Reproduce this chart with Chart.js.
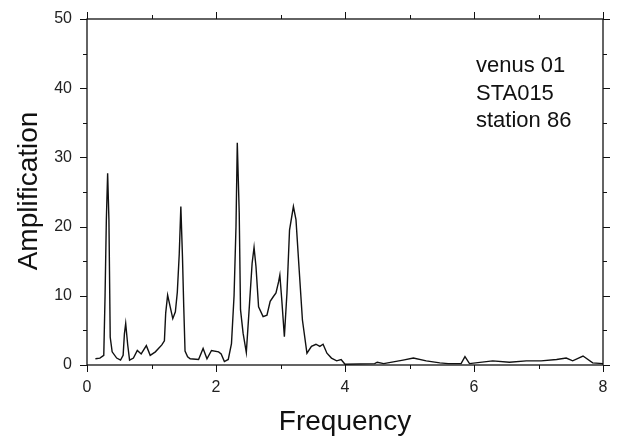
<!DOCTYPE html>
<html lang="en">
<head>
    <meta charset="UTF-8">
    <title>Amplification vs Frequency</title>
    <script src="https://cdn.jsdelivr.net/npm/chart.js"></script>
    <style>
        body {
            margin: 0;
            background: #fff;
        }
        canvas {
            display: block;
        }
    </style>
</head>
<body>
    <canvas id="specChart" width="622" height="444"></canvas>

    <script>
        // values
        const frequency = [
            0.13, 0.20, 0.26, 0.28, 0.30, 0.32, 0.34, 0.36, 0.39, 0.46,
            0.52, 0.56, 0.58, 0.60, 0.63, 0.66, 0.72, 0.78, 0.84, 0.92,
            0.98, 1.06, 1.16, 1.20, 1.22, 1.25, 1.29, 1.33, 1.37, 1.40,
            1.43, 1.455, 1.48, 1.50, 1.52, 1.56, 1.60, 1.73, 1.80, 1.86,
            1.93, 2.04, 2.08, 2.13, 2.19, 2.24, 2.28, 2.31, 2.33, 2.36,
            2.38, 2.42, 2.47, 2.52, 2.56, 2.59, 2.62, 2.66, 2.73, 2.79,
            2.84, 2.89, 2.93, 2.97, 2.99, 3.02, 3.06, 3.10, 3.14, 3.20,
            3.24, 3.29, 3.34, 3.41, 3.48, 3.55, 3.61, 3.66, 3.72, 3.79,
            3.87, 3.94, 4.00, 4.46, 4.50, 4.60, 4.90, 5.06, 5.26, 5.47,
            5.60, 5.80, 5.86, 5.93, 6.29, 6.55, 6.81, 7.04, 7.28, 7.43,
            7.53, 7.69, 7.84, 8.00
        ];
        const amplification = [
            0.9, 1.0, 1.4, 10, 21, 27.7, 21, 4, 1.9, 1.0,
            0.7, 1.4, 4.5, 6.0, 3.0, 0.7, 1.0, 2.1, 1.6, 2.8,
            1.4, 1.9, 2.9, 3.5, 7.5, 10.1, 8.4, 6.7, 7.7, 10.5,
            16, 22.9, 15.7, 8.4, 2.0, 1.2, 0.9, 0.8, 2.4, 0.9,
            2.1, 1.9, 1.6, 0.5, 0.8, 3.1, 10, 20, 32.1, 22,
            8, 4.6, 1.8, 8.9, 14.7, 17.0, 14.2, 8.4, 7.0, 7.2,
            9.2, 9.9, 10.4, 12.0, 13.0, 9.4, 4.1, 10.4, 19.5, 22.9,
            21, 13.7, 6.5, 1.7, 2.7, 3.0, 2.7, 3.0, 1.7, 1.0,
            0.6, 0.8, 0.1, 0.2, 0.4, 0.2, 0.7, 1.0, 0.6, 0.3,
            0.2, 0.2, 1.2, 0.2, 0.6, 0.4, 0.6, 0.6, 0.8, 1.0,
            0.6, 1.3, 0.3, 0.2
        ];
        const xMajorTicks = [0, 2, 4, 6, 8];
        const xMinorTicks = [1, 3, 5, 7];
        const yMajorTicks = [0, 10, 20, 30, 40, 50];
        const yMinorTicks = [5, 15, 25, 35, 45];
        const noteLines = ['venus 01', 'STA015', 'station 86'];

        const FONT = '"Liberation Sans", Arial, sans-serif';

        // frame, outward ticks on all four sides, titles and the note
        const framePlugin = {
            id: 'frame',
            afterDraw(chart) {
                const ctx = chart.ctx;
                const a = chart.chartArea;
                const xs = chart.scales.x;
                const ys = chart.scales.y;
                ctx.save();
                ctx.strokeStyle = '#111';
                ctx.lineWidth = 1.3;
                ctx.strokeRect(a.left, a.top, a.right - a.left, a.bottom - a.top);

                ctx.lineWidth = 1;
                ctx.beginPath();
                const xTick = (v, len) => {
                    const px = Math.round(xs.getPixelForValue(v)) + 0.5;
                    ctx.moveTo(px, a.bottom); ctx.lineTo(px, a.bottom + len);
                    ctx.moveTo(px, a.top); ctx.lineTo(px, a.top - len);
                };
                const yTick = (v, len) => {
                    const py = Math.round(ys.getPixelForValue(v)) + 0.5;
                    ctx.moveTo(a.left, py); ctx.lineTo(a.left - len, py);
                    ctx.moveTo(a.right, py); ctx.lineTo(a.right + len, py);
                };
                xMajorTicks.forEach(v => xTick(v, 7));
                xMinorTicks.forEach(v => xTick(v, 4));
                yMajorTicks.forEach(v => yTick(v, 7));
                yMinorTicks.forEach(v => yTick(v, 4));
                ctx.stroke();

                ctx.fillStyle = '#111';
                ctx.font = '28px ' + FONT;
                ctx.textAlign = 'center';
                ctx.textBaseline = 'alphabetic';
                ctx.fillText('Frequency', 345, 430);

                ctx.translate(37, 191);
                ctx.rotate(-Math.PI / 2);
                ctx.fillText('Amplification', 0, 0);
                ctx.setTransform(1, 0, 0, 1, 0, 0);

                ctx.font = '22px ' + FONT;
                ctx.textAlign = 'left';
                noteLines.forEach((t, i) => ctx.fillText(t, 476, 72 + i * 27.5));
                ctx.restore();
            }
        };

        const points = frequency.map((f, i) => ({ x: f, y: amplification[i] }));

        new Chart(document.getElementById('specChart').getContext('2d'), {
            type: 'line',
            data: {
                datasets: [{
                    data: points,
                    borderColor: '#111',
                    borderWidth: 1.4,
                    pointRadius: 0,
                    tension: 0,
                    fill: false
                }]
            },
            options: {
                responsive: false,
                animation: false,
                layout: { padding: { top: 19, right: 19, left: 0, bottom: 0 } },
                plugins: {
                    legend: { display: false },
                    tooltip: { enabled: false }
                },
                scales: {
                    x: {
                        type: 'linear',
                        min: 0,
                        max: 8,
                        grid: { display: false },
                        border: { display: false },
                        ticks: {
                            stepSize: 2,
                            padding: 5,
                            color: '#222',
                            font: { family: FONT, size: 16 }
                        },
                        afterFit(scale) { scale.height = 79; }
                    },
                    y: {
                        min: 0,
                        max: 50,
                        grid: { display: false },
                        border: { display: false },
                        ticks: {
                            stepSize: 10,
                            padding: 7,
                            color: '#222',
                            font: { family: FONT, size: 16 }
                        },
                        afterFit(scale) { scale.width = 87; }
                    }
                }
            },
            plugins: [framePlugin]
        });
    </script>
</body>
</html>
